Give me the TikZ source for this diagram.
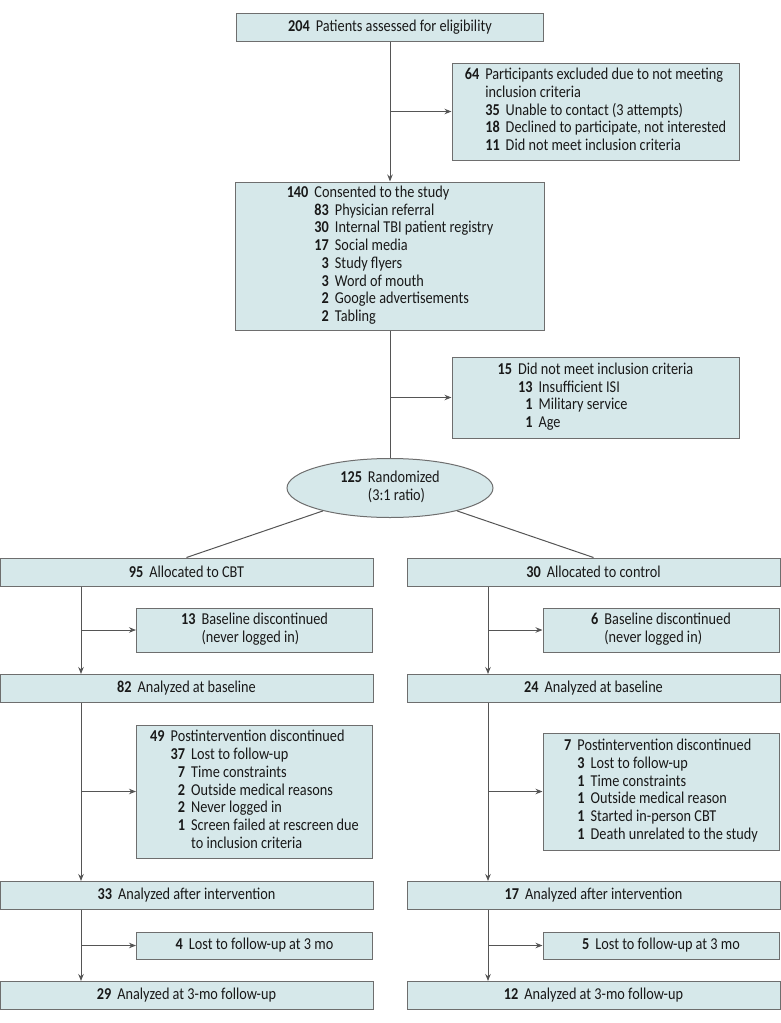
\documentclass[tikz,border=0pt]{standalone}
\usepackage{fontspec}
\setmainfont{Carlito}[FakeStretch=0.86]
\usetikzlibrary{arrows.meta,shapes.geometric}
\definecolor{boxfill}{HTML}{D6E8EA}
\definecolor{boxline}{HTML}{6E6E6E}
\definecolor{flowline}{HTML}{555555}
\newcommand{\flowfont}{\fontsize{16.6}{17.7}\selectfont}
\newcommand{\mainrow}[2]{\textbf{#1} & \multicolumn{2}{@{}l@{}}{#2}\\}
\newcommand{\subrow}[2]{& \textbf{#1} & #2\\}
\newenvironment{counts}{\begin{tabular}{@{}r@{\hspace{6pt}}r@{\hspace{6pt}}l@{}}}{\end{tabular}}
\tikzset{
	box/.style={draw=boxline, fill=boxfill, line width=1pt, inner sep=0pt,
			align=center, font=\flowfont, text=black!90},
	widebox/.style={box, minimum width=373pt, minimum height=28pt},
	sidebox/.style={box, minimum width=236pt},
	link/.style={draw=flowline, line width=1pt},
	flow/.style={link, -{Stealth[length=7pt,width=5.5pt]}}
}

\begin{document}
\begin{tikzpicture}[x=1pt, y=-1pt]
	\useasboundingbox (0,0) rectangle (780,1023);
	% enrollment
	\node[box, minimum width=307pt, minimum height=28pt] (elig) at (390,27)
		{\textbf{204}\hspace{6pt}Patients assessed for eligibility};
	\node[box, minimum width=287pt, minimum height=97pt] (excl1) at (595.5,111.5) {\begin{counts}
		\mainrow{64}{Participants excluded due to not meeting}
		& \multicolumn{2}{@{}l@{}}{inclusion criteria}\\
		\subrow{35}{Unable to contact (3 attempts)}
		\subrow{18}{Declined to participate, not interested}
		\subrow{11}{Did not meet inclusion criteria}
	\end{counts}};
	\node[box, minimum width=309pt, minimum height=148pt] (consent) at (390,256) {\begin{counts}
		\mainrow{140}{Consented to the study}
		\subrow{83}{Physician referral}
		\subrow{30}{Internal TBI patient registry}
		\subrow{17}{Social media}
		\subrow{3}{Study flyers}
		\subrow{3}{Word of mouth}
		\subrow{2}{Google advertisements}
		\subrow{2}{Tabling}
	\end{counts}};
	\node[box, minimum width=287pt, minimum height=81pt] (excl2) at (595.5,397.5) {\begin{counts}
		\mainrow{15}{Did not meet inclusion criteria}
		\subrow{13}{Insufficient ISI}
		\subrow{1}{Military service}
		\subrow{1}{Age}
	\end{counts}};
	\node[box, ellipse, minimum width=206pt, minimum height=59pt] (rand) at (390,488) {\begin{counts}
		\mainrow{125}{Randomized}
		& \multicolumn{2}{@{}l@{}}{(3:1 ratio)}\\
	\end{counts}};

	% allocation and follow-up
	\node[widebox] (allocCBT) at (186.5,572) {\textbf{95}\hspace{6pt}Allocated to CBT};
	\node[widebox] (allocCtrl) at (593.5,572) {\textbf{30}\hspace{6pt}Allocated to control};
	\node[sidebox, minimum height=44pt] (discCBT) at (254.5,630) {\begin{counts}
		\mainrow{13}{Baseline discontinued}
		& \multicolumn{2}{@{}l@{}}{(never logged in)}\\
	\end{counts}};
	\node[sidebox, minimum height=44pt] (discCtrl) at (661,630) {\begin{counts}
		\mainrow{6}{Baseline discontinued}
		& \multicolumn{2}{@{}l@{}}{(never logged in)}\\
	\end{counts}};
	\node[widebox] (baseCBT) at (186.5,688.5) {\textbf{82}\hspace{6pt}Analyzed at baseline};
	\node[widebox] (baseCtrl) at (593.5,688.5) {\textbf{24}\hspace{6pt}Analyzed at baseline};
	\node[sidebox, minimum height=133pt] (postCBT) at (254.5,791.5) {\begin{counts}
		\mainrow{49}{Postintervention discontinued}
		\subrow{37}{Lost to follow-up}
		\subrow{7}{Time constraints}
		\subrow{2}{Outside medical reasons}
		\subrow{2}{Never logged in}
		\subrow{1}{Screen failed at rescreen due}
		& & to inclusion criteria\\
	\end{counts}};
	\node[sidebox, minimum height=117pt] (postCtrl) at (661,791.5) {\begin{counts}
		\mainrow{7}{Postintervention discontinued}
		\subrow{3}{Lost to follow-up}
		\subrow{1}{Time constraints}
		\subrow{1}{Outside medical reason}
		\subrow{1}{Started in-person CBT}
		\subrow{1}{Death unrelated to the study}
	\end{counts}};
	\node[widebox] (afterCBT) at (186.5,895.5) {\textbf{33}\hspace{6pt}Analyzed after intervention};
	\node[widebox] (afterCtrl) at (593.5,895.5) {\textbf{17}\hspace{6pt}Analyzed after intervention};
	\node[sidebox, minimum height=27pt] (lostCBT) at (254.5,945.5) {\textbf{4}\hspace{6pt}Lost to follow-up at 3 mo};
	\node[sidebox, minimum height=27pt] (lostCtrl) at (661,945.5) {\textbf{5}\hspace{6pt}Lost to follow-up at 3 mo};
	\node[widebox] (fuCBT) at (186.5,995.5) {\textbf{29}\hspace{6pt}Analyzed at 3-mo follow-up};
	\node[widebox] (fuCtrl) at (593.5,995.5) {\textbf{12}\hspace{6pt}Analyzed at 3-mo follow-up};

	% connectors
	\coordinate (cbtx) at (81,0);
	\coordinate (ctrlx) at (488,0);
	\draw[flow] (elig.south) -- (consent.north);
	\draw[flow] (elig.south |- excl1.west) -- (excl1.west);
	\draw[link] (consent.south) -- (rand.north);
	\draw[flow] (consent.south |- excl2.west) -- (excl2.west);
	\draw[link] (rand) -- (allocCBT.north);
	\draw[link] (rand) -- (allocCtrl.north);

	\draw[flow] (allocCBT.south -| cbtx) -- (baseCBT.north -| cbtx);
	\draw[flow] (discCBT.west -| cbtx) -- (discCBT.west);
	\draw[flow] (baseCBT.south -| cbtx) -- (afterCBT.north -| cbtx);
	\draw[flow] (postCBT.west -| cbtx) -- (postCBT.west);
	\draw[flow] (afterCBT.south -| cbtx) -- (fuCBT.north -| cbtx);
	\draw[flow] (lostCBT.west -| cbtx) -- (lostCBT.west);

	\draw[flow] (allocCtrl.south -| ctrlx) -- (baseCtrl.north -| ctrlx);
	\draw[flow] (discCtrl.west -| ctrlx) -- (discCtrl.west);
	\draw[flow] (baseCtrl.south -| ctrlx) -- (afterCtrl.north -| ctrlx);
	\draw[flow] (postCtrl.west -| ctrlx) -- (postCtrl.west);
	\draw[flow] (afterCtrl.south -| ctrlx) -- (fuCtrl.north -| ctrlx);
	\draw[flow] (lostCtrl.west -| ctrlx) -- (lostCtrl.west);
\end{tikzpicture}
\end{document}
